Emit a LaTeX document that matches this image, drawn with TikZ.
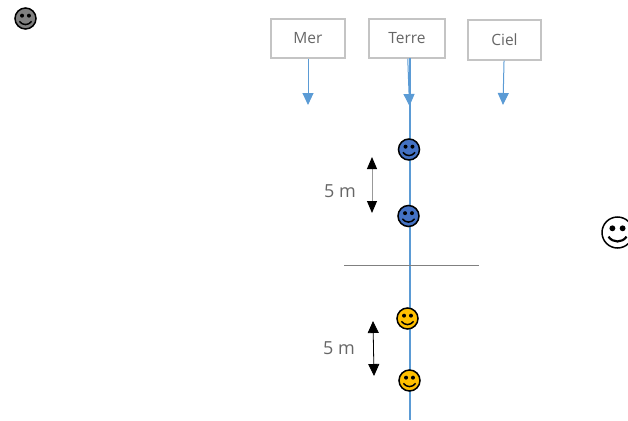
\documentclass[tikz,border=0pt]{standalone}
\usepackage{fontspec}
\setmainfont{Open Sans}
\usetikzlibrary{arrows.meta}
\definecolor{bleu}{HTML}{5B9BD5}
\definecolor{bleufonce}{HTML}{4472C4}
\definecolor{jaune}{HTML}{FFC000}
\definecolor{cadre}{HTML}{C4C4C4}
\definecolor{texte}{HTML}{666666}
\begin{document}
\begin{tikzpicture}[x=1pt,y=-1pt,
	box node/.style={rectangle,draw=cadre,line width=1.3pt,minimum width=#1,minimum height=39,inner sep=0pt,text=texte,font=\fontsize{15.5}{18}\selectfont},
	label node/.style={text=texte,inner sep=0pt,font=\fontsize{18}{21}\selectfont},
	smiley node/.style 2 args={circle,draw=black,line width=1.5pt,fill=#1,minimum size=2*#2,inner sep=0pt,
		path picture={
			\begin{scope}[shift={(path picture bounding box.center)},x=#2,y=-#2]
				\fill[black] (-.33,-.27) circle (.19);
				\fill[black] (.33,-.27) circle (.19);
				\draw[black,line width=.14*#2] (-.58,.27) .. controls (-.3,.68) and (.3,.68) .. (.58,.27);
			\end{scope}
		}},
	bleu arrow/.style={draw=bleu,line width=1pt,-{Triangle[length=12pt,width=11pt]}},
	noir arrow/.style={draw=black,line width=.8pt,{Triangle[length=12pt,width=11pt]}-{Triangle[length=12pt,width=11pt]}},
	gris arrow/.style={draw=black!40,line width=1pt,{Triangle[length=12pt,width=10pt,black]}-{Triangle[length=12pt,width=10pt,black]}}]
	
	\useasboundingbox (0,0) rectangle (628,420);
	
	\node[box node=74] (Mer) at (308,38.5) {Mer};
	\node[box node=76] (Terre) at (407,38.5) {Terre};
	\node[box node=73,minimum height=40] (Ciel) at (504.5,40) {Ciel};
	
	\coordinate (MerFin) at (308,105);
	\coordinate (TerreFin) at (409.5,106);
	\coordinate (CielFin) at (503,105);
	\coordinate (AxeHaut) at (410,58);
	\coordinate (AxeBas) at (410,420);
	\coordinate (SolG) at (344,265.5);
	\coordinate (SolD) at (479,265.5);
	\coordinate (HautA) at (372,157);
	\coordinate (HautB) at (372,213);
	\coordinate (BasA) at (373,321);
	\coordinate (BasB) at (374,376);
	
	\path[draw=bleu,line width=1.5pt] (AxeHaut) -- (AxeBas);
	\path[draw=black!50,line width=.5pt] (SolG) -- (SolD);
	
	\node[smiley node={black!50}{10.5pt}] (Gris) at (25.5,18.5) {};
	\node[smiley node={white}{15.5pt}] (Blanc) at (617.5,232.5) {};
	\node[smiley node={bleufonce}{10.5pt}] (BleuA) at (409,149.5) {};
	\node[smiley node={bleufonce}{10.5pt}] (BleuB) at (408.5,216) {};
	\node[smiley node={jaune}{10.5pt}] (JauneA) at (407.5,318.5) {};
	\node[smiley node={jaune}{10.5pt}] (JauneB) at (409.5,380.5) {};
	
	\node[label node] (CinqA) at (340,191) {5 m};
	\node[label node] (CinqB) at (339,348) {5 m};
	
	\path
	(Mer) edge[bleu arrow] (MerFin)
	(Terre) edge[bleu arrow] (TerreFin)
	(Ciel) edge[bleu arrow] (CielFin)
	(HautA) edge[gris arrow] (HautB)
	(BasA) edge[noir arrow] (BasB);
\end{tikzpicture}
\end{document}
